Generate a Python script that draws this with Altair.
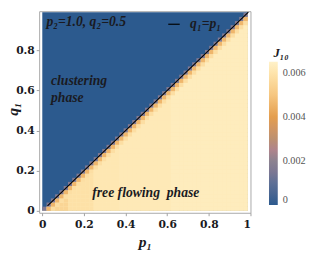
import altair as alt
import pandas as pd

# ---- data ----
N_CELLS = 48                     # mesh resolution of the density plot
EDGE = 0.987                     # extent of coloured region
diag_band = [0.0016, 0.0046, 0.0058]          # J10 for cells 0,1,2 steps below q1=p1
base_by_p = [0.0055, 0.0059, 0.0061, 0.0062, 0.0062, 0.0063, 0.0063, 0.0063]  # J10 in free-flowing phase by p1 bin
free_phase_J = 0.0062
stops = [0, 0.001, 0.002, 0.003, 0.004, 0.005, 0.006, 0.0065]
stop_colors = ["#2C5A8E", "#5E7096", "#8C8290", "#BC9070", "#E49E4E", "#F6C680", "#FEE4AC", "#FFF1C8"]
x_ticks = [0, 0.2, 0.4, 0.6, 0.8, 1.0]
y_ticks = [0, 0.2, 0.4, 0.6, 0.8]
legend_vals = [0, 0.002, 0.004, 0.006]
line_pts = [0.025, 0.99]

step = EDGE / N_CELLS
rows = []
for i in range(N_CELLS):
    for j in range(i + 1):
        d = i - j
        v = diag_band[d] if d < len(diag_band) else base_by_p[i * len(base_by_p) // N_CELLS]
        rows.append({"x": i * step, "x2": (i + 1) * step, "y": j * step, "y2": (j + 1) * step, "J": v})
cells = pd.DataFrame(rows)
bg = pd.DataFrame({"x": [0.0], "x2": [EDGE], "y": [0.0], "y2": [0.99], "J": [0.0]})
under = pd.DataFrame({"x": [0.0, EDGE], "y": [0.0, EDGE], "y2": [0.0, 0.0], "J": [free_phase_J] * 2})
line_df = pd.DataFrame({"p": line_pts, "q": line_pts})

SERIF = "Liberation Serif"
TXT = "#1a1a22"

xs = alt.Scale(domain=[-0.015, 1.0], nice=False, zero=False)
ys = alt.Scale(domain=[-0.01, 0.995], nice=False, zero=False)
cs = alt.Scale(domain=stops, range=stop_colors, clamp=True)

xenc = alt.X("x:Q", scale=xs, axis=alt.Axis(values=x_ticks, format="~g", title="p₁"))
yenc = alt.Y("y:Q", scale=ys, axis=alt.Axis(values=y_ticks, format="~g", title="q₁"))

legend = alt.Legend(
    type="gradient",
    title=None, orient="none", legendX=236, legendY=52, direction="vertical",
    gradientLength=147, gradientThickness=9, values=legend_vals,
    labelExpr="datum.value == 0 ? '0' : format(datum.value, '.3f')",
    labelFont=SERIF, labelFontSize=10.5, labelColor="#555555", labelOffset=5,
    gradientStrokeWidth=0,
)
color = alt.Color("J:Q", scale=cs, legend=legend)

background = alt.Chart(bg).mark_rect().encode(
    x=xenc, x2="x2:Q", y=yenc, y2="y2:Q", color=color,
)

under_area = alt.Chart(under).mark_area().encode(
    x=xenc, y=yenc, y2="y2:Q", color=color,
)

heat = alt.Chart(cells).mark_rect().encode(
    x=xenc, x2="x2:Q", y=yenc, y2="y2:Q", color=color,
)

diag = alt.Chart(line_df).mark_line(color="black", strokeWidth=1.1).encode(
    x=alt.X("p:Q", scale=xs), y=alt.Y("q:Q", scale=ys)
)

def label(text, x, y, size=14, align="left"):
    return alt.Chart().mark_text(
        text=text, font=SERIF, fontStyle="italic", fontWeight="bold",
        fontSize=size, color=TXT, align=align, baseline="middle",
    ).encode(x=alt.X(datum=x, scale=xs), y=alt.Y(datum=y, scale=ys))

legend_rule = alt.Chart().mark_rule(color="black", strokeWidth=1.2).encode(
    x=alt.X(datum=0.605, scale=xs), x2=alt.datum(0.66), y=alt.Y(datum=0.93, scale=ys)
)

chart = alt.layer(
    background, under_area, heat, diag, legend_rule,
    label("p₂=1.0, q₂=0.5", 0.02, 0.94),
    label("q₁=p₁", 0.71, 0.93),
    label("clustering", 0.042, 0.645),
    label("phase", 0.042, 0.56),
    label("free flowing\u00a0 phase", 0.24, 0.09),
    label("J₁₀", 1.11, 0.785, size=13),
).properties(
    width=217, height=207,
    autosize="none",
    padding={"left": 32, "top": 0, "right": 57, "bottom": 38},
).configure_view(
    stroke="#A8A8A8", strokeWidth=1
).configure_axis(
    domain=False, grid=False, tickColor="#A0A0A0", tickSize=3, tickWidth=1,
    labelFont="DejaVu Serif", labelFontWeight="bold", labelFontSize=11, labelColor=TXT,
    titleFont=SERIF, titleFontStyle="italic", titleFontWeight="bold", titleFontSize=16, titleColor=TXT,
).configure_axisX(
    labelPadding=3, titlePadding=5,
).configure_axisY(
    labelPadding=2, titleAngle=-90, titleX=-27, titleY=100, titleBaseline="middle",
)

chart.save("out.html", embed_options={"renderer": "svg", "actions": False})
